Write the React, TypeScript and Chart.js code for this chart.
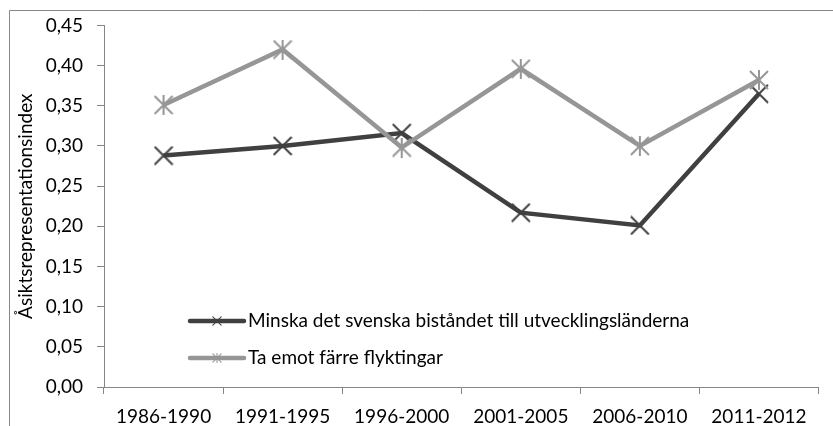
import React, { useEffect, useRef } from "react";
import { Chart, registerables } from "chart.js";

Chart.register(...registerables);

const categories: string[] = ["1986-1990", "1991-1995", "1996-2000", "2001-2005", "2006-2010", "2011-2012"];
const seriesNames: string[] = ["Minska det svenska biståndet till utvecklingsländerna", "Ta emot färre flyktingar"];
const biståndValues: number[] = [0.288, 0.300, 0.316, 0.217, 0.201, 0.365];
const flyktingarValues: number[] = [0.351, 0.420, 0.298, 0.396, 0.300, 0.382];
const yAxisTitle = "Åsiktsrepresentationsindex";
const yMin = 0;
const yMax = 0.45;
const yStep = 0.05;

const DARK = "#404040";
const LIGHT = "#969696";
const AXIS = "#868686";
const FONT = "Lato";

function makeMarker(color: string, star: boolean): HTMLCanvasElement {
  const s = 20;
  const c = document.createElement("canvas");
  c.width = s;
  c.height = s;
  const g = c.getContext("2d")!;
  g.strokeStyle = color;
  g.lineWidth = 2;
  g.lineCap = "butt";
  g.beginPath();
  g.moveTo(1, 1);
  g.lineTo(s - 1, s - 1);
  g.moveTo(s - 1, 1);
  g.lineTo(1, s - 1);
  if (star) {
    g.moveTo(s / 2, 0);
    g.lineTo(s / 2, s);
  }
  g.stroke();
  return c;
}

export default function App() {
  const ref = useRef<HTMLCanvasElement | null>(null);

  useEffect(() => {
    if (!ref.current) return;
    const darkMarker = makeMarker(DARK, false);
    const lightMarker = makeMarker(LIGHT, true);

    const decor = {
      id: "decor",
      beforeDraw(chart: any) {
        const ctx = chart.ctx;
        ctx.save();
        ctx.fillStyle = "#fff";
        ctx.fillRect(0, 0, chart.width, chart.height);
        ctx.restore();
      },
      afterDraw(chart: any) {
        const ctx = chart.ctx;
        const area = chart.chartArea;
        ctx.save();
        // outer frame (left and top only visible)
        ctx.strokeStyle = AXIS;
        ctx.lineWidth = 1;
        ctx.beginPath();
        ctx.moveTo(9.5, chart.height);
        ctx.lineTo(9.5, 10.5);
        ctx.lineTo(chart.width, 10.5);
        ctx.stroke();

        // y axis title
        ctx.fillStyle = "#000";
        ctx.font = `19px ${FONT}`;
        ctx.textAlign = "center";
        ctx.textBaseline = "middle";
        ctx.translate(26, (area.top + area.bottom) / 2);
        ctx.rotate(-Math.PI / 2);
        ctx.fillText(yAxisTitle, 0, 0);
        ctx.restore();

        // legend inside plot
        ctx.save();
        const rows = [
          { label: seriesNames[0], color: DARK, marker: darkMarker, y: area.bottom - 66 },
          { label: seriesNames[1], color: LIGHT, marker: lightMarker, y: area.bottom - 29 },
        ];
        const x0 = area.left + 86;
        const x1 = x0 + 54;
        rows.forEach((r) => {
          ctx.strokeStyle = r.color;
          ctx.lineWidth = 4.5;
          ctx.lineCap = "round";
          ctx.beginPath();
          ctx.moveTo(x0, r.y);
          ctx.lineTo(x1, r.y);
          ctx.stroke();
          const mx = (x0 + x1) / 2;
          ctx.drawImage(r.marker, mx - 5, r.y - 5, 10, 10);
          ctx.fillStyle = "#000";
          ctx.font = `19px ${FONT}`;
          ctx.textAlign = "left";
          ctx.textBaseline = "middle";
          ctx.fillText(r.label, x1 + 4, r.y);
        });
        ctx.restore();
      },
    };

    const chart = new Chart(ref.current, {
      type: "line",
      data: {
        labels: categories,
        datasets: [
          {
            label: seriesNames[0],
            data: biståndValues,
            borderColor: DARK,
            backgroundColor: DARK,
            borderWidth: 4.5,
            pointStyle: darkMarker as any,
            pointRadius: 10,
            tension: 0,
            order: 1,
          },
          {
            label: seriesNames[1],
            data: flyktingarValues,
            borderColor: LIGHT,
            backgroundColor: LIGHT,
            borderWidth: 4.5,
            pointStyle: lightMarker as any,
            pointRadius: 10,
            tension: 0,
            order: 0,
          },
        ],
      },
      options: {
        responsive: false,
        animation: false,
        layout: { padding: { top: 24, right: 14, left: 0, bottom: 0 } },
        plugins: {
          legend: { display: false },
          tooltip: { enabled: false },
        },
        scales: {
          x: {
            offset: true,
            grid: {
              offset: true,
              drawOnChartArea: false,
              tickLength: 7,
              color: AXIS,
            },
            border: { color: AXIS, width: 1 },
            ticks: {
              color: "#000",
              font: { family: FONT, size: 19 },
              padding: 11,
              maxRotation: 0,
              autoSkip: false,
            },
            afterFit(scale: any) {
              scale.height = 39;
            },
          },
          y: {
            min: yMin,
            max: yMax,
            grid: {
              drawOnChartArea: false,
              tickLength: 7,
              color: AXIS,
            },
            border: { color: AXIS, width: 1 },
            ticks: {
              stepSize: yStep,
              color: "#000",
              font: { family: FONT, size: 19 },
              padding: 14,
              callback: (v: any) => Number(v).toFixed(2).replace(".", ","),
            },
            afterFit(scale: any) {
              scale.width = 104;
            },
          },
        },
      },
      plugins: [decor],
    });
    return () => chart.destroy();
  }, []);

  return (
    <div style={{ position: "absolute", left: 0, top: 0, width: 833, height: 426 }}>
      <canvas ref={ref} width={833} height={426} style={{ display: "block" }} />
    </div>
  );
}
